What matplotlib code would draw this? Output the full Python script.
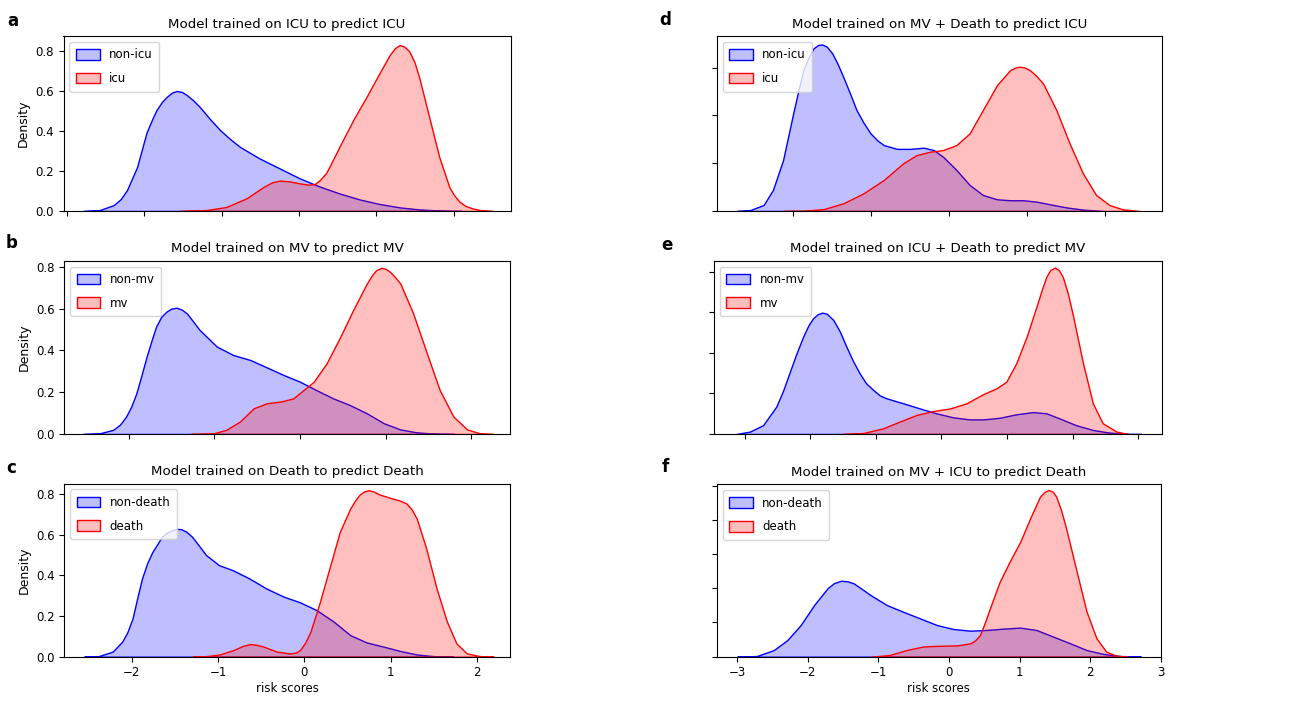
import matplotlib
matplotlib.use('Agg')
import matplotlib.pyplot as plt
from matplotlib.ticker import MultipleLocator, NullFormatter

# curves (risk score, density)
# a: trained on ICU, predict ICU
a_neg_x = [-2.78, -2.57, -2.39, -2.30, -2.22, -2.09, -1.97, -1.90, -1.84, -1.77, -1.71, -1.64, -1.58, -1.51,
           -1.45, -1.37, -1.28, -1.15, -1.02, -0.89, -0.76, -0.51, -0.25, 0.01, 0.27, 0.52, 0.78, 1.04, 1.30,
           1.55, 1.85, 2.10]
a_neg_y = [0.0, 0.005, 0.03, 0.06, 0.105, 0.22, 0.39, 0.455, 0.505, 0.545, 0.57, 0.592, 0.60, 0.595,
           0.58, 0.555, 0.52, 0.46, 0.405, 0.36, 0.32, 0.263, 0.213, 0.163, 0.122, 0.088, 0.058, 0.035, 0.018,
           0.008, 0.002, 0.0]
a_pos_x = [-1.54, -1.19, -0.94, -0.68, -0.46, -0.35, -0.25, -0.12, 0.01, 0.12, 0.20, 0.27, 0.35, 0.43, 0.52,
           0.70, 0.87, 1.04, 1.17, 1.24, 1.30, 1.36, 1.42, 1.49, 1.55, 1.68, 1.81, 1.94, 2.00, 2.07, 2.15, 2.24,
           2.35, 2.50]
a_pos_y = [0.0, 0.005, 0.02, 0.063, 0.12, 0.143, 0.152, 0.148, 0.138, 0.132, 0.134, 0.155, 0.19, 0.25, 0.32,
           0.455, 0.57, 0.69, 0.78, 0.815, 0.83, 0.822, 0.80, 0.745, 0.67, 0.47, 0.27, 0.12, 0.08, 0.047, 0.025,
           0.013, 0.004, 0.0]

# b: trained on MV, predict MV
b_neg_x = [-2.53, -2.34, -2.18, -2.10, -2.03, -1.97, -1.91, -1.85, -1.79, -1.73, -1.68, -1.62, -1.56, -1.50,
           -1.44, -1.38, -1.32, -1.25, -1.17, -0.97, -0.78, -0.58, -0.39, -0.19, 0.0, 0.19, 0.39, 0.58, 0.78,
           0.98, 1.17, 1.36, 1.56, 1.80]
b_neg_y = [0.0, 0.003, 0.02, 0.045, 0.083, 0.13, 0.194, 0.28, 0.37, 0.45, 0.513, 0.56, 0.585, 0.60,
           0.604, 0.595, 0.577, 0.54, 0.497, 0.418, 0.378, 0.354, 0.319, 0.282, 0.25, 0.21, 0.17, 0.139, 0.099,
           0.051, 0.022, 0.008, 0.002, 0.0]
b_pos_x = [-1.28, -1.01, -0.86, -0.70, -0.54, -0.39, -0.23, -0.08, 0.04, 0.16, 0.31, 0.47, 0.62, 0.78, 0.84,
           0.89, 0.95, 1.00, 1.05, 1.11, 1.17, 1.32, 1.48, 1.63, 1.79, 1.95, 2.10, 2.26]
b_pos_y = [0.0, 0.003, 0.02, 0.06, 0.123, 0.147, 0.155, 0.17, 0.21, 0.25, 0.338, 0.465, 0.593, 0.72, 0.76,
           0.784, 0.795, 0.79, 0.776, 0.75, 0.72, 0.577, 0.386, 0.21, 0.083, 0.022, 0.003, 0.0]

# c: trained on Death, predict Death
c_neg_x = [-2.55, -2.38, -2.22, -2.11, -2.05, -1.99, -1.94, -1.88, -1.82, -1.76, -1.65, -1.59, -1.53, -1.48,
           -1.43, -1.37, -1.30, -1.22, -1.14, -0.99, -0.83, -0.64, -0.44, -0.24, -0.05, 0.14, 0.34, 0.53, 0.72,
           0.92, 1.11, 1.30, 1.49, 1.72]
c_neg_y = [0.0, 0.003, 0.025, 0.074, 0.12, 0.188, 0.28, 0.385, 0.46, 0.515, 0.589, 0.61, 0.622, 0.628,
           0.627, 0.615, 0.589, 0.545, 0.50, 0.45, 0.425, 0.385, 0.335, 0.295, 0.267, 0.229, 0.172, 0.106, 0.07,
           0.049, 0.028, 0.011, 0.003, 0.0]
c_pos_x = [-1.29, -1.13, -0.98, -0.82, -0.72, -0.63, -0.55, -0.47, -0.32, -0.17, -0.10, -0.05, 0.01, 0.07,
           0.18, 0.30, 0.41, 0.53, 0.59, 0.64, 0.69, 0.74, 0.80, 0.87, 1.02, 1.10, 1.18, 1.24, 1.30, 1.41, 1.53,
           1.65, 1.76, 1.88, 2.03, 2.19]
c_pos_y = [0.0, 0.003, 0.011, 0.033, 0.052, 0.062, 0.058, 0.049, 0.025, 0.016, 0.02, 0.033, 0.07, 0.123,
           0.27, 0.45, 0.614, 0.728, 0.77, 0.797, 0.812, 0.818, 0.812, 0.797, 0.777, 0.768, 0.753, 0.725, 0.679,
           0.532, 0.335, 0.172, 0.065, 0.016, 0.003, 0.0]

# d: trained on MV + Death, predict ICU
d_neg_x = [-2.72, -2.55, -2.38, -2.26, -2.13, -2.00, -1.93, -1.87, -1.80, -1.74, -1.68, -1.63, -1.57, -1.50,
           -1.43, -1.36, -1.27, -1.19, -1.10, -1.01, -0.92, -0.84, -0.67, -0.50, -0.33, -0.20, -0.08, 0.09,
           0.26, 0.43, 0.61, 0.78, 0.95, 1.12, 1.29, 1.50, 1.71, 1.97]
d_neg_y = [0.0, 0.004, 0.025, 0.088, 0.213, 0.409, 0.51, 0.59, 0.645, 0.681, 0.695, 0.697, 0.688, 0.66,
           0.615, 0.562, 0.49, 0.423, 0.37, 0.325, 0.295, 0.276, 0.26, 0.26, 0.265, 0.255, 0.227, 0.172,
           0.109, 0.067, 0.049, 0.045, 0.045, 0.039, 0.028, 0.015, 0.006, 0.0]
d_pos_x = [-2.12, -1.87, -1.61, -1.36, -1.10, -0.84, -0.59, -0.42, -0.25, -0.08, 0.09, 0.26, 0.43, 0.61, 0.78,
           0.84, 0.90, 0.96, 1.03, 1.11, 1.20, 1.37, 1.54, 1.71, 1.88, 2.05, 2.22, 2.44]
d_pos_y = [0.0, 0.001, 0.008, 0.032, 0.074, 0.13, 0.20, 0.234, 0.248, 0.255, 0.276, 0.325, 0.423, 0.527, 0.59,
           0.60, 0.604, 0.601, 0.59, 0.567, 0.534, 0.423, 0.283, 0.158, 0.067, 0.025, 0.007, 0.0]

# e: trained on ICU + Death, predict MV
e_neg_x = [-3.13, -2.92, -2.72, -2.52, -2.42, -2.32, -2.22, -2.11, -2.03, -1.96, -1.89, -1.82, -1.75, -1.65,
           -1.55, -1.45, -1.35, -1.25, -1.15, -1.04, -0.94, -0.84, -0.58, -0.33, -0.08, 0.18, 0.43, 0.64, 0.89,
           1.14, 1.40, 1.60, 1.80, 2.05, 2.31, 2.56, 2.87, 3.05]
e_neg_y = [0.0, 0.012, 0.044, 0.135, 0.21, 0.30, 0.39, 0.48, 0.535, 0.57, 0.59, 0.598, 0.593, 0.562,
           0.505, 0.43, 0.36, 0.30, 0.25, 0.217, 0.19, 0.176, 0.151, 0.126, 0.102, 0.082, 0.072, 0.072, 0.08,
           0.097, 0.108, 0.102, 0.077, 0.044, 0.02, 0.007, 0.0, 0.0]
e_pos_x = [-1.50, -1.19, -0.89, -0.64, -0.38, -0.13, 0.13, 0.38, 0.64, 0.84, 0.99, 1.14, 1.30, 1.45, 1.53,
           1.60, 1.66, 1.73, 1.79, 1.85, 1.93, 2.01, 2.16, 2.31, 2.46, 2.67, 2.85]
e_pos_y = [0.0, 0.005, 0.028, 0.061, 0.094, 0.113, 0.126, 0.151, 0.197, 0.225, 0.258, 0.348, 0.48, 0.628,
           0.71, 0.775, 0.808, 0.82, 0.808, 0.775, 0.69, 0.578, 0.348, 0.151, 0.053, 0.012, 0.0]

# f: trained on MV + ICU, predict Death
f_neg_x = [-3.00, -2.72, -2.48, -2.29, -2.10, -1.91, -1.72, -1.63, -1.53, -1.44, -1.35, -1.23, -1.11, -0.88,
           -0.65, -0.41, -0.17, 0.06, 0.30, 0.53, 0.77, 1.01, 1.24, 1.48, 1.72, 1.95, 2.19, 2.43, 2.72]
f_neg_y = [0.0, 0.004, 0.039, 0.097, 0.185, 0.302, 0.40, 0.43, 0.444, 0.441, 0.429, 0.395, 0.36, 0.302,
           0.263, 0.224, 0.185, 0.162, 0.152, 0.156, 0.164, 0.17, 0.156, 0.117, 0.078, 0.039, 0.016, 0.004, 0.0]
f_pos_x = [-1.10, -0.84, -0.60, -0.36, -0.13, 0.11, 0.30, 0.37, 0.44, 0.51, 0.58, 0.72, 0.86, 1.01, 1.15, 1.29,
           1.35, 1.41, 1.47, 1.52, 1.59, 1.66, 1.81, 1.95, 2.09, 2.23, 2.37, 2.53]
f_pos_y = [0.0, 0.01, 0.039, 0.06, 0.064, 0.066, 0.078, 0.095, 0.127, 0.20, 0.283, 0.439, 0.556, 0.672, 0.809,
           0.936, 0.962, 0.975, 0.965, 0.936, 0.855, 0.75, 0.497, 0.263, 0.107, 0.029, 0.006, 0.0]

letters = ['a', 'b', 'c', 'd', 'e', 'f']
titles = ['Model trained on ICU to predict ICU',
          'Model trained on MV to predict MV',
          'Model trained on Death to predict Death',
          'Model trained on MV + Death to predict ICU',
          'Model trained on ICU + Death to predict MV',
          'Model trained on MV + ICU to predict Death']
neg_labels = ['non-icu', 'non-mv', 'non-death', 'non-icu', 'non-mv', 'non-death']
pos_labels = ['icu', 'mv', 'death', 'icu', 'mv', 'death']
curves = [(a_neg_x, a_neg_y, a_pos_x, a_pos_y),
          (b_neg_x, b_neg_y, b_pos_x, b_pos_y),
          (c_neg_x, c_neg_y, c_pos_x, c_pos_y),
          (d_neg_x, d_neg_y, d_pos_x, d_pos_y),
          (e_neg_x, e_neg_y, e_pos_x, e_pos_y),
          (f_neg_x, f_neg_y, f_pos_x, f_pos_y)]

W, H = 1306, 701
# axes boxes in pixels: left, top, right, bottom
boxes = [(63.5, 36, 510.5, 211), (64.3, 260.7, 510, 434), (64.3, 483.5, 510, 656.7),
         (716.7, 36, 1161.7, 211), (714, 260.7, 1161.7, 434), (716.7, 484.3, 1160.7, 656.7)]
xlims = [(-3.04, 2.73), (-2.75, 2.45), (-2.78, 2.38), (-2.98, 2.72), (-3.47, 3.36), (-3.29, 3.0)]
ytops = [0.875, 0.829, 0.851, 0.7325, 0.854, 1.008]
letter_pos = [(12.7, 20.7), (11.7, 243), (11, 468), (665, 20), (666.7, 245), (665, 467)]

fig = plt.figure(figsize=(W / 100, H / 100), dpi=100)

for i in range(6):
    l, t, r, b = boxes[i]
    ax = fig.add_axes([l / W, 1 - b / H, (r - l) / W, (b - t) / H])
    nx_, ny_, px_, py_ = curves[i]
    ax.fill_between(nx_, ny_, facecolor=(0, 0, 1, 0.25), edgecolor='blue', lw=1.0,
                    joinstyle='round', label=neg_labels[i])
    ax.fill_between(px_, py_, facecolor=(1, 0, 0, 0.25), edgecolor='red', lw=1.0,
                    joinstyle='round', label=pos_labels[i])
    ax.set_xlim(*xlims[i])
    ax.set_ylim(0, ytops[i])
    ax.xaxis.set_major_locator(MultipleLocator(1))
    ax.yaxis.set_major_locator(MultipleLocator(0.2))
    ax.tick_params(labelsize=8.5)
    if i < 3:
        ax.set_ylabel('Density', fontsize=9)
    else:
        ax.yaxis.set_major_formatter(NullFormatter())
    if i in (2, 5):
        ax.set_xlabel('risk scores', fontsize=8.5, labelpad=2)
    else:
        ax.xaxis.set_major_formatter(NullFormatter())
    ax.set_title(titles[i], fontsize=9.6, pad=6)
    ax.legend(loc='upper left', fontsize=8.5, labelspacing=0.9, borderpad=0.55, handleheight=1.0)
    lx, ly = letter_pos[i]
    fig.text(lx / W, 1 - ly / H, letters[i], fontsize=12, fontweight='bold', ha='center', va='center')

fig.savefig('out.png', dpi=100)
